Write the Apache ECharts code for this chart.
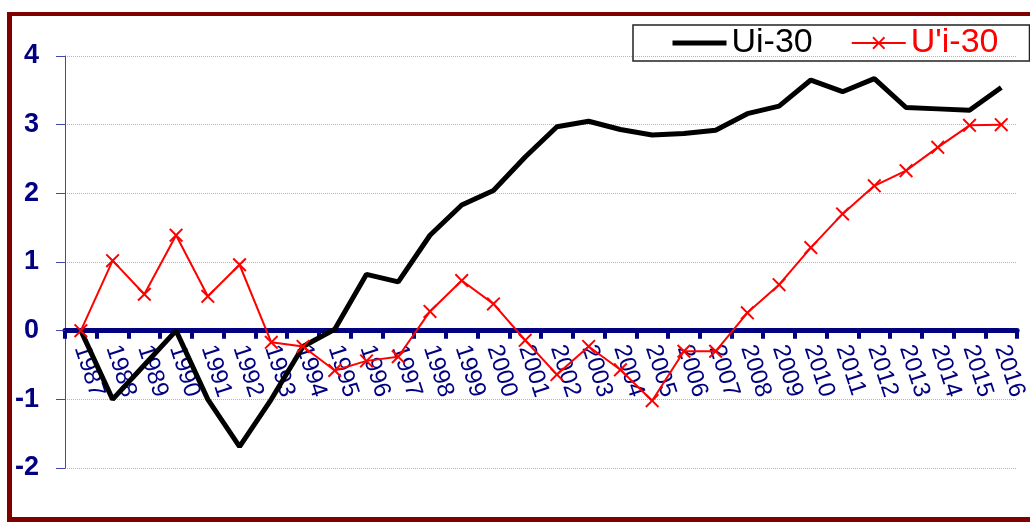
<!DOCTYPE html>
<html>
<head>
<meta charset="utf-8">
<script src="https://cdn.jsdelivr.net/npm/echarts@6/dist/echarts.min.js"></script>
<style>
html,body{margin:0;padding:0;background:#fff;}
#chart{width:1030px;height:522px;}
</style>
</head>
<body>
<div id="chart"></div>
<script>
const years = ['1987','1988','1989','1990','1991','1992','1993','1994','1995','1996','1997','1998','1999','2000','2001','2002','2003','2004','2005','2006','2007','2008','2009','2010','2011','2012','2013','2014','2015','2016'];
const ui30 = [0, -1.0, -0.5, 0, -1.0, -1.69, -1.0, -0.23, 0.02, 0.82, 0.71, 1.39, 1.83, 2.04, 2.53, 2.97, 3.05, 2.93, 2.85, 2.87, 2.92, 3.16, 3.27, 3.65, 3.48, 3.67, 3.25, 3.23, 3.21, 3.54];
const upi30 = [0, 1.02, 0.53, 1.39, 0.5, 0.96, -0.17, -0.23, -0.58, -0.44, -0.38, 0.28, 0.73, 0.39, -0.14, -0.64, -0.23, -0.57, -1.02, -0.3, -0.3, 0.26, 0.67, 1.21, 1.7, 2.11, 2.33, 2.67, 2.99, 3.0];
const yTicks = {min: -2, max: 4, interval: 1};
const seriesNames = ['Ui-30', "U'i-30"];

const FONT = "'Liberation Sans', Arial, sans-serif";
const NAVY = '#000080';
const xSymbol = 'path://M1,0 L5,4 L9,0 L10,1 L6,5 L10,9 L9,10 L5,6 L1,10 L0,9 L4,5 L0,1 Z';

const GRID = {left: 65, right: 7, top: 56, bottom: 54};
const gridH = 522 - GRID.top - GRID.bottom;
// move the category axis (line, ticks and labels) up to the value 0
const zeroOffset = -gridH * (0 - yTicks.min) / (yTicks.max - yTicks.min);

const chart = echarts.init(document.getElementById('chart'), null, {renderer: 'canvas'});
chart.setOption({
  animation: false,
  backgroundColor: '#fff',
  textStyle: {fontFamily: FONT},
  grid: Object.assign({containLabel: false}, GRID),
  legend: {
    left: 633, top: 25,
    padding: [1, 31, 1, 37],
    itemGap: 38,
    itemWidth: 54, itemHeight: 16,
    borderColor: '#222', borderWidth: 1.5,
    textStyle: {fontSize: 34, fontFamily: FONT},
    data: [
      {name: seriesNames[0], textStyle: {color: '#000'}, itemStyle: {opacity: 0}, lineStyle: {width: 5, color: '#000'}},
      {name: seriesNames[1], textStyle: {color: '#ff0000'}, lineStyle: {width: 2, color: '#ff0000'}}
    ]
  },
  xAxis: {
    type: 'category',
    data: years,
    boundaryGap: true,
    offset: zeroOffset,
    axisLine: {onZero: false, lineStyle: {color: NAVY, width: 5}},
    axisTick: {show: true, interval: 0, length: 8, lineStyle: {color: NAVY, width: 4}},
    axisLabel: {interval: 0, rotate: -72, margin: 15, color: NAVY, fontSize: 24, fontFamily: FONT},
    splitLine: {show: false}
  },
  yAxis: {
    type: 'value',
    min: yTicks.min, max: yTicks.max, interval: yTicks.interval,
    axisLine: {show: true, onZero: false, lineStyle: {color: '#4646aa', width: 1}},
    axisTick: {show: true, length: 9, lineStyle: {color: '#4646aa', width: 1}},
    axisLabel: {color: NAVY, fontSize: 27, fontWeight: 'bold', fontFamily: FONT, margin: 26},
    splitLine: {show: true, lineStyle: {color: '#b4b4b4', width: 1, type: 'dotted'}}
  },
  series: [
    {
      name: seriesNames[0],
      type: 'line',
      data: ui30,
      symbol: 'none',
      lineStyle: {color: '#000', width: 5},
      itemStyle: {color: '#000'},
      z: 3
    },
    {
      name: seriesNames[1],
      type: 'line',
      data: upi30,
      symbol: xSymbol,
      symbolSize: 14,
      showSymbol: true,
      showAllSymbol: true,
      lineStyle: {color: '#ff0000', width: 2},
      itemStyle: {color: '#ff0000'},
      z: 4
    }
  ],
  graphic: [
    {type: 'rect', shape: {x: 7, y: 12, width: 5, height: 510}, style: {fill: '#800000'}, z: 100},
    {type: 'rect', shape: {x: 7, y: 12, width: 1023, height: 4}, style: {fill: '#800000'}, z: 100},
    {type: 'rect', shape: {x: 7, y: 517, width: 1023, height: 5}, style: {fill: '#800000'}, z: 100}
  ]
});
</script>
</body>
</html>
